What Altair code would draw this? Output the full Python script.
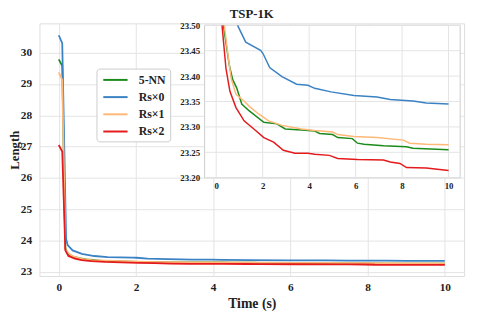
import altair as alt
import pandas as pd

FONT = "Liberation Serif"

series_names = ["5-NN", "Rs×0", "Rs×1", "Rs×2"]
series_colors = ["#1a8a1a", "#3b82c4", "#ffb877", "#e41a1c"]

green_t = [0, 0.09, 0.17, 0.22, 0.31, 0.56, 0.71, 0.88, 1.10, 1.41, 2.05, 2.61, 2.97, 3.67, 4.24, 4.45, 5.01, 5.23, 5.86, 6.08, 6.36, 7.20, 8.19, 8.47, 10.0]
green_v = [29.79, 29.58, 23.75, 23.60, 23.50, 23.422, 23.393, 23.377, 23.345, 23.332, 23.309, 23.306, 23.296, 23.294, 23.292, 23.287, 23.285, 23.279, 23.277, 23.268, 23.266, 23.263, 23.261, 23.258, 23.255]

blue_t = [0, 0.09, 0.19, 0.23, 0.36, 0.60, 0.92, 1.27, 1.91, 2.02, 2.30, 2.83, 3.46, 3.95, 4.24, 4.94, 5.93, 6.92, 7.49, 8.47, 9.04, 10.0]
blue_v = [30.56, 30.31, 24.05, 23.85, 23.68, 23.57, 23.50, 23.467, 23.451, 23.444, 23.417, 23.399, 23.384, 23.382, 23.376, 23.369, 23.362, 23.359, 23.354, 23.351, 23.347, 23.345]

orange_t = [0, 0.09, 0.17, 0.24, 0.35, 0.49, 0.64, 0.85, 1.20, 1.41, 1.84, 2.26, 2.83, 3.67, 4.24, 5.01, 5.23, 5.93, 6.92, 8.05, 8.33, 9.04, 10.0]
orange_v = [29.37, 29.13, 23.72, 23.60, 23.50, 23.448, 23.396, 23.364, 23.351, 23.341, 23.325, 23.312, 23.303, 23.296, 23.293, 23.290, 23.285, 23.281, 23.279, 23.274, 23.268, 23.266, 23.265]

red_t = [0, 0.09, 0.17, 0.25, 0.42, 0.59, 0.85, 1.20, 1.62, 2.05, 2.47, 2.89, 3.39, 3.95, 4.24, 4.87, 5.23, 6.08, 7.20, 7.49, 7.91, 8.19, 9.04, 10.0]
red_v = [27.05, 26.84, 23.68, 23.50, 23.415, 23.370, 23.338, 23.312, 23.296, 23.279, 23.270, 23.254, 23.248, 23.248, 23.246, 23.244, 23.238, 23.236, 23.235, 23.231, 23.228, 23.220, 23.219, 23.214]

main_x_ticks = [0, 2, 4, 6, 8, 10]
main_y_ticks = [23, 24, 25, 26, 27, 28, 29, 30]
inset_x_ticks = [0, 2, 4, 6, 8, 10]
inset_y_ticks = [23.20, 23.25, 23.30, 23.35, 23.40, 23.45, 23.50]

rows = []
for name, ts, vs in zip(series_names, [green_t, blue_t, orange_t, red_t],
                        [green_v, blue_v, orange_v, red_v]):
    for t, v in zip(ts, vs):
        rows.append({"series": name, "t": t, "v": v})
df = pd.DataFrame(rows)

W, H = 432, 257
GRID = "#e3e3e3"
TXT = "#222222"

main_x = alt.Scale(domain=[-0.5, 10.5], nice=False, zero=False)
main_y = alt.Scale(domain=[22.86, 30.94], nice=False, zero=False)

inset_x = alt.Scale(domain=[-0.5, 10.5], range=[168, 428], nice=False, zero=False)
inset_y = alt.Scale(domain=[23.2, 23.5], range=[157, 2], nice=False, zero=False)

color = alt.Color(
    "series:N",
    scale=alt.Scale(domain=series_names, range=series_colors),
    sort=series_names,
    legend=alt.Legend(
        title=None, orient="none", legendX=58, legendY=46,
        fillColor="white", strokeColor="#cccccc", cornerRadius=3, padding=4,
        symbolType="M-0.7,0H3.1", symbolSize=169, symbolStrokeWidth=2,
        labelFont=FONT, labelFontSize=12, labelFontWeight="bold", labelColor=TXT,
        labelOffset=24, rowPadding=3.5,
    ),
)

main_lines = alt.Chart(df).mark_line(strokeWidth=1.8).encode(
    x=alt.X("t:Q", scale=main_x, axis=alt.Axis(
        values=main_x_ticks, title="Time (s)", grid=True, gridColor=GRID, ticks=False,
        domain=False, labelFont=FONT, labelFontSize=11.5, labelFontWeight="bold",
        labelColor=TXT, labelPadding=6, titleFont=FONT, titleFontSize=14,
        titleFontWeight="bold", titleColor=TXT, titlePadding=4)),
    y=alt.Y("v:Q", scale=main_y, axis=alt.Axis(
        values=main_y_ticks, title="Length", grid=True, gridColor=GRID, ticks=False,
        domain=False, labelFont=FONT, labelFontSize=11.5, labelFontWeight="bold",
        labelColor=TXT, labelPadding=8, titleFont=FONT, titleFontSize=13,
        titleFontWeight="bold", titleColor=TXT, titlePadding=-1)),
    color=color,
)

bg_df = pd.DataFrame({"x0": [inset_x_ticks[0] - 0.5], "x1": [inset_x_ticks[-1] + 0.5],
                      "y0": [inset_y_ticks[0]], "y1": [inset_y_ticks[-1]]})
inset_bg = alt.Chart(bg_df).mark_rect(fill="white", stroke="#cccccc", strokeWidth=1).encode(
    x=alt.X("x0:Q", scale=inset_x, axis=alt.Axis(
        values=inset_x_ticks, title=None, grid=False, ticks=False, domain=False,
        orient="bottom", offset=-(H - 157), labelFont=FONT, labelFontSize=9,
        labelFontWeight="bold", labelColor=TXT, labelPadding=4)),
    x2="x1:Q",
    y=alt.Y("y0:Q", scale=inset_y, axis=alt.Axis(
        values=inset_y_ticks, format=".2f", title=None, grid=False, ticks=False,
        domain=False, orient="left", offset=-168, labelFont=FONT, labelFontSize=9,
        labelFontWeight="bold", labelColor=TXT, labelPadding=5)),
    y2="y1:Q",
)

vgrid_df = pd.DataFrame({"gx": inset_x_ticks, "y0": inset_y_ticks[0], "y1": inset_y_ticks[-1]})
inset_vgrid = alt.Chart(vgrid_df).mark_rule(color=GRID, strokeWidth=1).encode(
    x=alt.X("gx:Q", scale=inset_x), y=alt.Y("y0:Q", scale=inset_y), y2="y1:Q")

hgrid_df = pd.DataFrame({"gy": inset_y_ticks, "x0": inset_x_ticks[0] - 0.5, "x1": inset_x_ticks[-1] + 0.5})
inset_hgrid = alt.Chart(hgrid_df).mark_rule(color=GRID, strokeWidth=1).encode(
    y=alt.Y("gy:Q", scale=inset_y), x=alt.X("x0:Q", scale=inset_x), x2="x1:Q")

inset_lines = alt.Chart(df).transform_filter(alt.datum.v <= 23.5).mark_line(strokeWidth=1.5).encode(
    x=alt.X("t:Q", scale=inset_x),
    y=alt.Y("v:Q", scale=inset_y),
    color=color,
)

inset = alt.layer(inset_bg, inset_vgrid, inset_hgrid, inset_lines)

chart = alt.layer(main_lines, inset).resolve_scale(x="independent", y="independent").properties(
    width=W, height=H,
    title=alt.TitleParams("TSP-1K", font=FONT, fontSize=13, fontWeight="bold",
                          anchor="middle", frame="group", color=TXT,
                          baseline="bottom", offset=2, dy=15),
    autosize=alt.AutoSizeParams(type="none"),
    padding={"left": 32, "top": 13, "right": 6, "bottom": 36},
).configure_view(stroke="#cccccc", strokeWidth=1).configure(background="white")

chart.save("out.html", embed_options={"renderer": "svg", "actions": False})
